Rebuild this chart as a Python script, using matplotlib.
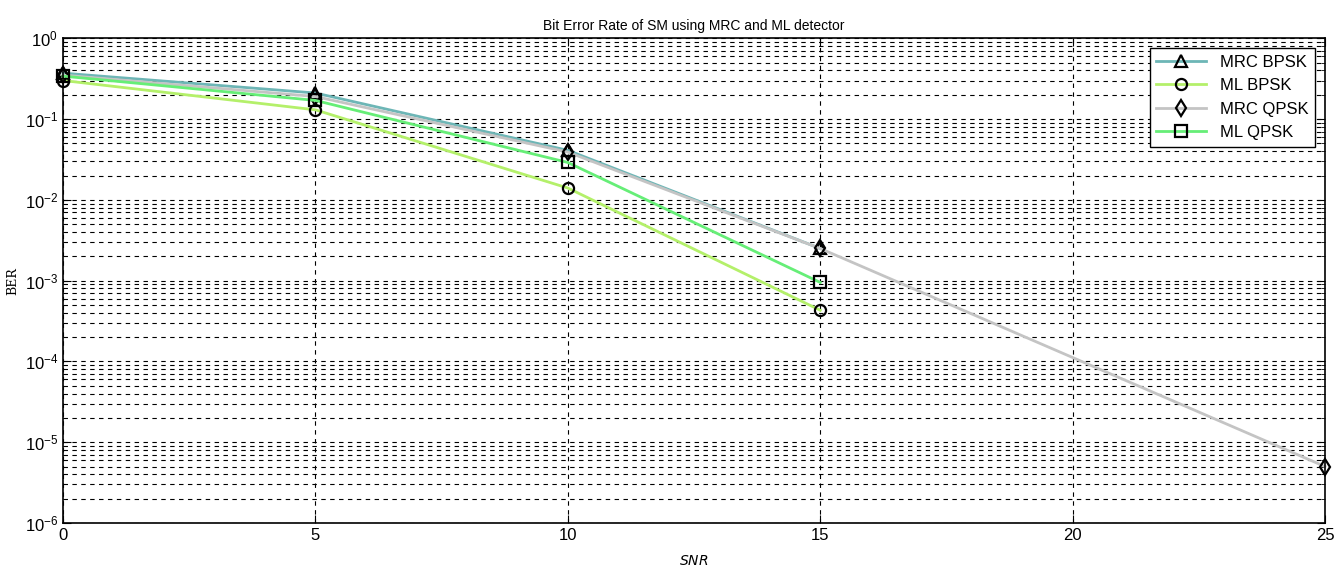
import matplotlib.pyplot as plt
from matplotlib.ticker import LogLocator, NullFormatter

plt.rcParams['font.family'] = ['Liberation Sans', 'DejaVu Sans']

snr = [0, 5, 10, 15]
snr_qpsk_mrc = [0, 5, 10, 15, 25]

ber_mrc_bpsk = [0.37, 0.21, 0.041, 0.0025]
ber_ml_bpsk = [0.30, 0.13, 0.014, 0.00043]
ber_mrc_qpsk = [0.35, 0.19, 0.039, 0.0025, 5e-6]
ber_ml_qpsk = [0.34, 0.17, 0.029, 0.00095]

fig = plt.figure(figsize=(13.36, 5.71), dpi=100)
ax = fig.add_axes([0.0472, 0.084, 0.9446, 0.849])

mk = dict(markerfacecolor='none', markeredgecolor='black', markeredgewidth=1.6,
          markersize=8, linewidth=2, clip_on=False)
ax.semilogy(snr, ber_mrc_bpsk, color='#6db6b6', marker='^', label='MRC BPSK', **mk)
ax.semilogy(snr, ber_ml_bpsk, color='#b4f06a', marker='o', label='ML BPSK', **mk)
ax.semilogy(snr_qpsk_mrc, ber_mrc_qpsk, color='#c4c4c4', marker='d', label='MRC QPSK', **mk)
ax.semilogy(snr, ber_ml_qpsk, color='#66ee77', marker='s', label='ML QPSK', **mk)

ax.set_xlim(0, 25)
ax.set_ylim(1e-6, 1)
ax.set_xticks([0, 5, 10, 15, 20, 25])
ax.yaxis.set_major_locator(LogLocator(base=10, numticks=10))
ax.yaxis.set_minor_locator(LogLocator(base=10, subs=range(2, 10), numticks=100))
ax.yaxis.set_minor_formatter(NullFormatter())
ax.tick_params(which='both', direction='in', top=True, right=True, labelsize=12)
ax.tick_params(which='major', length=6)
ax.tick_params(which='minor', length=3)

ax.grid(True, which='major', axis='both', color='black', linestyle=(0, (4, 4)), linewidth=0.8)
ax.grid(True, which='minor', axis='y', color='black', linestyle=(0, (4, 4)), linewidth=0.8)
ax.set_axisbelow(True)
for s in ax.spines.values():
    s.set_linewidth(1.2)

ax.set_title('Bit Error Rate of SM using MRC and ML detector', fontsize=10)
ax.set_xlabel('$SNR$', fontsize=10, family='DejaVu Serif', labelpad=8)
ax.set_ylabel('BER', fontsize=9, family='DejaVu Serif')

leg = ax.legend(loc='upper right', fontsize=12, fancybox=False, framealpha=1,
                edgecolor='black', handlelength=3, borderaxespad=0.6)
leg.get_frame().set_linewidth(1.0)

plt.savefig('out.png', dpi=100)
